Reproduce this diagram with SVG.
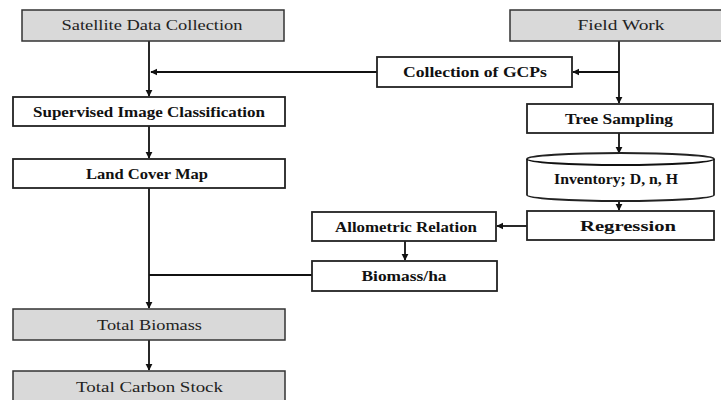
<svg xmlns="http://www.w3.org/2000/svg" width="721" height="400" viewBox="0 0 721 400">
<style>
.box{fill:#fff;stroke:#222;stroke-width:1.8}
.gbox{fill:#d9d9d9;stroke:#333;stroke-width:1.5}
.t{font-family:"Liberation Serif",serif;font-size:14px;font-weight:bold;fill:#111;text-anchor:middle}
.tg{font-family:"Liberation Serif",serif;font-size:14px;fill:#222;text-anchor:middle}
.c{fill:none;stroke:#111;stroke-width:1.8}
</style>
<defs>
<marker id="ah" viewBox="0 0 10 10" refX="9" refY="5" markerWidth="4" markerHeight="4" orient="auto" markerUnits="strokeWidth">
<path d="M0,0 L10,5 L0,10 Z" fill="#111"/>
</marker>
</defs>
<rect width="721" height="400" fill="#fff"/>
<g id="connectors">
<path class="c" d="M149,41 V96" marker-end="url(#ah)"/>
<path class="c" d="M377,72 H151" marker-end="url(#ah)"/>
<path class="c" d="M619,41 V103" marker-end="url(#ah)"/>
<path class="c" d="M619,72 H573" marker-end="url(#ah)"/>
<path class="c" d="M149,126 V158" marker-end="url(#ah)"/>
<path class="c" d="M619,133 V153" marker-end="url(#ah)"/>
<path class="c" d="M619,201 V210" marker-end="url(#ah)"/>
<path class="c" d="M527,226 H497" marker-end="url(#ah)"/>
<path class="c" d="M405,241 V260" marker-end="url(#ah)"/>
<path class="c" d="M149,188 V308" marker-end="url(#ah)"/>
<path class="c" d="M312,275 H149"/>
<path class="c" d="M149,340 V370" marker-end="url(#ah)"/>
</g>
<g id="satellite">
<rect class="gbox" x="22" y="10" width="262" height="31"/>
<text class="tg" x="152" y="30" textLength="181" lengthAdjust="spacingAndGlyphs">Satellite Data Collection</text>
</g>
<g id="fieldwork">
<rect class="gbox" x="510" y="10" width="215" height="31"/>
<text class="tg" x="621" y="30" textLength="87" lengthAdjust="spacingAndGlyphs">Field Work</text>
</g>
<g id="gcps">
<rect class="box" x="377" y="57" width="195" height="30"/>
<text class="t" x="475" y="77" textLength="144" lengthAdjust="spacingAndGlyphs">Collection of GCPs</text>
</g>
<g id="supervised">
<rect class="box" x="13" y="97" width="272" height="29"/>
<text class="t" x="149" y="116.5" textLength="232" lengthAdjust="spacingAndGlyphs">Supervised Image Classification</text>
</g>
<g id="treesampling">
<rect class="box" x="527" y="104" width="186" height="29"/>
<text class="t" x="619" y="123.5" textLength="108" lengthAdjust="spacingAndGlyphs">Tree Sampling</text>
</g>
<g id="landcover">
<rect class="box" x="13" y="159" width="272" height="29"/>
<text class="t" x="147" y="178.5" textLength="122" lengthAdjust="spacingAndGlyphs">Land Cover Map</text>
</g>
<g id="inventory">
<path class="box" d="M527,159 V195 A93.5,6 0 0 0 714,195 V159 A93.5,6 0 0 0 527,159 Z"/>
<path class="c" d="M527,159 A93.5,6 0 0 0 714,159"/>
<text class="t" x="616" y="184" textLength="124" lengthAdjust="spacingAndGlyphs">Inventory; D, n, H</text>
</g>
<g id="regression">
<rect class="box" x="527" y="211" width="187" height="29"/>
<text class="t" x="628" y="230.5" textLength="96" lengthAdjust="spacingAndGlyphs">Regression</text>
</g>
<g id="allometric">
<rect class="box" x="312" y="212" width="184" height="29"/>
<text class="t" x="406" y="231.5" textLength="142" lengthAdjust="spacingAndGlyphs">Allometric Relation</text>
</g>
<g id="biomassha">
<rect class="box" x="312" y="261" width="185" height="30"/>
<text class="t" x="404" y="281" textLength="85" lengthAdjust="spacingAndGlyphs">Biomass/ha</text>
</g>
<g id="totalbiomass">
<rect class="gbox" x="13" y="309" width="272" height="31"/>
<text class="tg" x="149.5" y="329.5" textLength="105" lengthAdjust="spacingAndGlyphs">Total Biomass</text>
</g>
<g id="totalcarbon">
<rect class="gbox" x="13" y="371" width="272" height="35"/>
<text class="tg" x="149.5" y="392" textLength="147" lengthAdjust="spacingAndGlyphs">Total Carbon Stock</text>
</g>
</svg>
